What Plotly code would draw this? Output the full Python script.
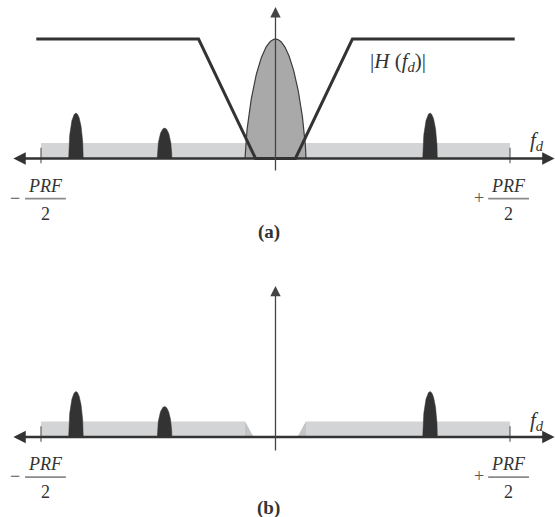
import numpy as np
import plotly.graph_objects as go

# Doppler frequency in units of PRF/2; the unambiguous band is [-1, 1]
tick_positions = [-1.0, 1.0]
tick_signs = ["\u2212", "+"]
tick_fraction_top = "PRF"
tick_fraction_bottom = "2"
filter_label = "|<i>H</i> (<i>f</i><sub><i>d</i></sub>)|"
panel_labels = ["(a)", "(b)"]

# receiver noise floor across the whole band
noise_band = [-1.0, 1.0]
noise_level = 0.13

# main-beam clutter centred at zero Doppler
clutter_center = 0.0
clutter_halfwidth = 0.13
clutter_peak = 1.0

# moving-target returns
target_freqs = [-0.851, -0.473, 0.659]
target_peaks = [0.38, 0.255, 0.38]
target_halfwidth = 0.031

# MTI filter magnitude response, piecewise linear
filter_freqs = [-1.02, -0.328, -0.085, 0.085, 0.328, 1.02]
filter_gain = [1.0, 1.0, 0.0, 0.0, 1.0, 1.0]

# notch left in the noise floor after filtering
notch_outer = 0.13
notch_inner = 0.094

INK = "#333333"
BAND = "#d3d4d6"
BAND_EDGE = "#c3c4c6"
CLUTTER = "#a9a9aa"
SERIF = "Liberation Serif, DejaVu Serif, serif"

# horizontal centres of the stacked PRF/2 labels
fraction_centers = [-0.981, 0.994]


def lobe(center, half, peak, power, n=161):
    u = np.linspace(-1.0, 1.0, n)
    y = peak * np.clip(1.0 - u ** 2, 0, None) ** power
    x = center + half * u
    return np.r_[x, x[0]], np.r_[y, 0.0]


fig = go.Figure()


def add_targets(xa, ya):
    for f, h in zip(target_freqs, target_peaks):
        x, y = lobe(f, target_halfwidth, h, 0.5)
        fig.add_trace(go.Scatter(x=x, y=y, xaxis=xa, yaxis=ya, mode="lines",
                                 fill="toself", fillcolor=INK,
                                 line=dict(color=INK, width=0.5),
                                 hoverinfo="skip", showlegend=False))


# ---- panel (a): spectrum before filtering, with the filter response ----
fig.add_trace(go.Scatter(
    x=[noise_band[0], noise_band[1], noise_band[1], noise_band[0], noise_band[0]],
    y=[0, 0, noise_level, noise_level, 0],
    xaxis="x", yaxis="y", mode="lines", fill="toself", fillcolor=BAND,
    line=dict(width=0), hoverinfo="skip", showlegend=False))

cx, cy = lobe(clutter_center, clutter_halfwidth, clutter_peak, 0.7)
fig.add_trace(go.Scatter(x=cx, y=cy, xaxis="x", yaxis="y", mode="lines",
                         fill="toself", fillcolor=CLUTTER,
                         line=dict(color="#3c3c3c", width=1.2),
                         hoverinfo="skip", showlegend=False))
add_targets("x", "y")
fig.add_trace(go.Scatter(x=filter_freqs, y=filter_gain, xaxis="x", yaxis="y",
                         mode="lines", line=dict(color=INK, width=3),
                         hoverinfo="skip", showlegend=False))

# ---- panel (b): spectrum after filtering ----
for s in (-1, 1):
    edge = noise_band[0] if s < 0 else noise_band[1]
    fig.add_trace(go.Scatter(
        x=[edge, s * notch_outer, s * notch_inner, edge, edge],
        y=[noise_level, noise_level, 0, 0, noise_level],
        xaxis="x2", yaxis="y2", mode="lines", fill="toself", fillcolor=BAND,
        line=dict(width=0), hoverinfo="skip", showlegend=False))
    fig.add_trace(go.Scatter(
        x=[s * notch_outer, s * notch_inner, s * notch_outer, s * notch_outer],
        y=[noise_level, 0, 0, noise_level],
        xaxis="x2", yaxis="y2", mode="lines", fill="toself", fillcolor=BAND_EDGE,
        line=dict(width=0), hoverinfo="skip", showlegend=False))
add_targets("x2", "y2")

annotations = []
shapes = []

panels = [
    # x ref, y ref, vertical axis top/bottom, f_d label height, panel label height
    ("x", "y", 1.268, -0.113, 0.146, -0.615),
    ("x2", "y2", 1.264, -0.125, 0.13, -0.59),
]

for (xr, yr, vtop, vbot, fd_y, lab_y), lab in zip(panels, panel_labels):
    # horizontal Doppler axis with arrows at both ends
    annotations.append(dict(x=1.19, y=0, ax=-1.124, ay=0, xref=xr, yref=yr,
                            axref=xr, ayref=yr, showarrow=True, text="",
                            arrowhead=2, arrowside="end+start", arrowsize=0.95,
                            arrowwidth=2.6, arrowcolor=INK))
    # vertical amplitude axis
    annotations.append(dict(x=0, y=vtop, ax=0, ay=vbot, xref=xr, yref=yr,
                            axref=xr, ayref=yr, showarrow=True, text="",
                            arrowhead=2, arrowsize=1.6, arrowwidth=1.3,
                            arrowcolor="#444444"))
    annotations.append(dict(x=1.115, y=fd_y, xref=xr, yref=yr, showarrow=False,
                            text="<i>f</i><sub><i>d</i></sub>",
                            font=dict(family=SERIF, size=21, color=INK)))
    annotations.append(dict(x=-0.028, y=lab_y, xref=xr, yref=yr, showarrow=False,
                            text="<b>" + lab + "</b>",
                            font=dict(family=SERIF, size=19, color=INK)))
    for pos, sign, cxl in zip(tick_positions, tick_signs, fraction_centers):
        shapes.append(dict(type="line", xref=xr, yref=yr, x0=pos, x1=pos,
                           y0=-0.04, y1=0.09, line=dict(color="#444444", width=1)))
        annotations.append(dict(x=cxl, y=-0.226, xref=xr, yref=yr, showarrow=False,
                                text="<i>" + tick_fraction_top + "</i>",
                                font=dict(family=SERIF, size=18, color=INK)))
        annotations.append(dict(x=cxl, y=-0.464, xref=xr, yref=yr, showarrow=False,
                                text=tick_fraction_bottom,
                                font=dict(family=SERIF, size=18, color=INK)))
        shapes.append(dict(type="line", xref=xr, yref=yr, x0=cxl - 0.087,
                           x1=cxl + 0.087, y0=-0.336, y1=-0.336,
                           line=dict(color="#8a8a8a", width=1.6)))
        annotations.append(dict(x=cxl - 0.128, y=-0.33, xref=xr, yref=yr,
                                showarrow=False, text=sign,
                                font=dict(family=SERIF, size=18, color="#555555")))

annotations.append(dict(x=0.522, y=0.808, xref="x", yref="y", showarrow=False,
                        text=filter_label,
                        font=dict(family=SERIF, size=21, color=INK)))

x_range = [-1.1748, 1.1919]
hidden = dict(visible=False, showgrid=False, zeroline=False, fixedrange=True)

fig.update_layout(
    width=555, height=517,
    margin=dict(l=0, r=0, t=0, b=0),
    paper_bgcolor="white", plot_bgcolor="white",
    xaxis=dict(range=x_range, anchor="y", **hidden),
    yaxis=dict(range=[-0.8368, 1.3264], domain=[0.5, 1.0], anchor="x", **hidden),
    xaxis2=dict(range=x_range, anchor="y2", **hidden),
    yaxis2=dict(range=[-0.6695, 1.4937], domain=[0.0, 0.5], anchor="x2", **hidden),
    annotations=annotations,
    shapes=shapes,
    showlegend=False,
)

fig.write_html("out.html")
